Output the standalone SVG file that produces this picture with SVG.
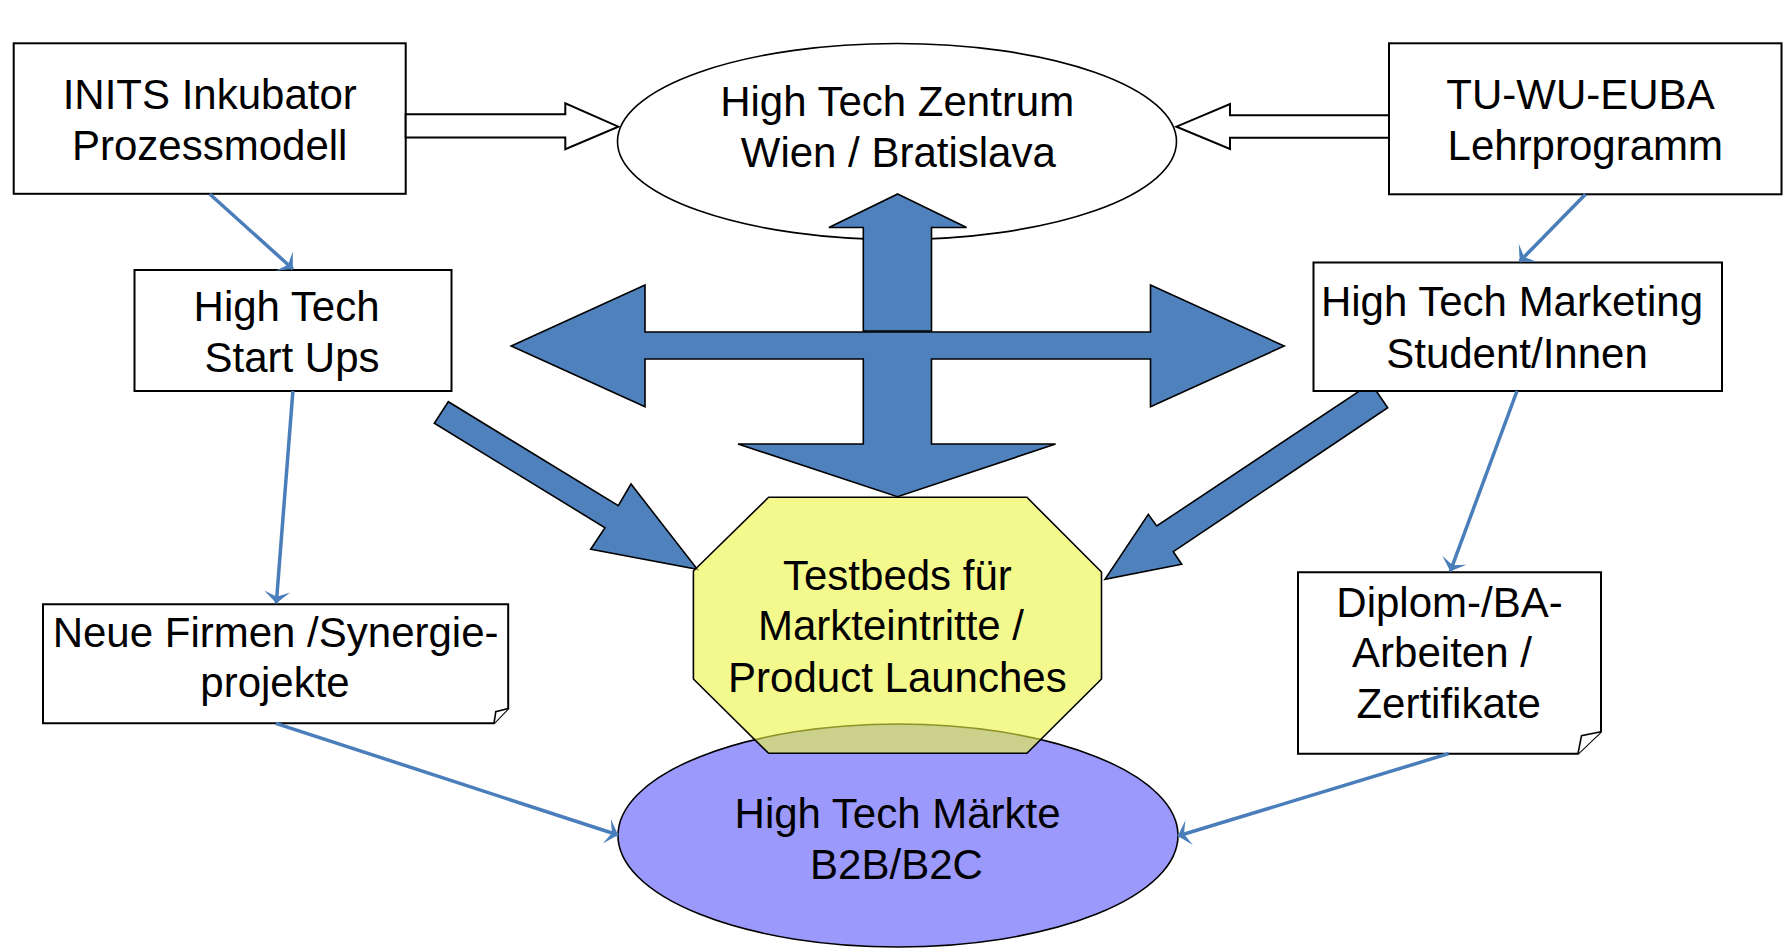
<svg xmlns="http://www.w3.org/2000/svg" width="1787" height="952" viewBox="0 0 1787 952">
<style>
text{font-family:"Liberation Sans",Arial,sans-serif;font-size:42px;fill:#000;text-anchor:middle}
.box{fill:#fff;stroke:#000;stroke-width:2}
.ell{stroke:#000;stroke-width:1.6}
.blk{fill:#4F81BD;stroke:#000;stroke-width:1.6;stroke-linejoin:miter}
.hollow{fill:#fff;stroke:#000;stroke-width:2}
.con{fill:none;stroke:#4A7EBB;stroke-width:3.5}
</style>
<defs>
<marker id="ah" markerUnits="userSpaceOnUse" markerWidth="14" markerHeight="28" viewBox="0 -13 12 26" refX="11" refY="0" orient="auto">
<path d="M11,0 L0,-12 L5,0 L0,12 Z" fill="#4A7EBB"/>
</marker>
</defs>
<rect width="1787" height="952" fill="#fff"/>

<g id="hub-arrows">
<polygon class="blk" points="511.2,346 645,285 645,332 1150.5,332 1150.5,285 1284.2,346 1150.5,406.7 1150.5,359 931.5,359 931.5,444 1055.6,444 897.5,496.7 738,444 863.3,444 863.3,359 645,359 645,406.7"/>
<polygon class="blk" points="448.3,401.7 434.3,423.3 605,527.7 590.7,549.3 697.3,569.3 631,484 618.3,505.7"/>
<polygon class="blk" points="1371,383.3 1387.7,407.7 1173.3,551.7 1181.7,564.3 1105,579.3 1148.3,514.3 1156.7,526"/>
</g>

<g id="node-zentrum">
<ellipse class="ell" cx="897" cy="141.5" rx="279.5" ry="98" fill="#fff"/>
<text x="897.2" y="116">High Tech Zentrum</text>
<text x="898.3" y="167.3">Wien / Bratislava</text>
</g>
<g id="hub-up">
<polygon class="blk" points="897.7,194 966.6,227.5 931.5,227.5 931.5,331 863.3,331 863.3,227.5 828.9,227.5"/>
</g>

<g id="node-maerkte">
<ellipse class="ell" cx="898" cy="835.5" rx="280" ry="111.5" fill="#9B99FB"/>
</g>

<g id="node-testbeds">
<polygon points="768.6,497.3 1026.9,497.3 1101.5,572 1101.5,679 1026.9,753.3 768.6,753.3 693.4,679 693.4,571" fill="#EBF541" fill-opacity="0.6" stroke="#000" stroke-width="1.6"/>
<text x="897.4" y="590">Testbeds für</text>
<text x="891" y="640">Markteintritte /</text>
<text x="897.4" y="691.7">Product Launches</text>
</g>
<g id="node-maerkte-text">
<text x="897.6" y="827.7">High Tech Märkte</text>
<text x="896.5" y="879">B2B/B2C</text>
</g>

<g id="node-inits">
<rect class="box" x="13.7" y="43.3" width="392" height="150.5"/>
<text x="209.7" y="109">INITS Inkubator</text>
<text x="209.7" y="160">Prozessmodell</text>
</g>

<g id="node-tu">
<rect class="box" x="1389" y="43.3" width="392.5" height="151"/>
<text x="1580.5" y="109">TU-WU-EUBA</text>
<text x="1585.3" y="160">Lehrprogramm</text>
</g>

<g id="node-startups">
<rect class="box" x="134.5" y="270" width="317" height="121"/>
<text x="286.6" y="321.4">High Tech</text>
<text x="292" y="371.5">Start Ups</text>
</g>

<g id="node-marketing">
<rect class="box" x="1313.5" y="262.5" width="408.5" height="128.5"/>
<text x="1512" y="316">High Tech Marketing</text>
<text x="1517" y="368.3">Student/Innen</text>
</g>

<g id="node-firmen">
<path class="box" d="M43,604.3 H508.2 V708.5 L494,723.3 H43 Z"/>
<path d="M494,723.3 L495.8,711.7 L508.2,708.5" fill="#fff" stroke="#000" stroke-width="1.6"/>
<text x="275.6" y="646.7">Neue Firmen /Synergie-</text>
<text x="275" y="696.7">projekte</text>
</g>

<g id="node-diplom">
<path class="box" d="M1298,572.3 H1601 V731.7 L1578,753.7 H1298 Z"/>
<path d="M1578,753.7 L1581.5,735.7 L1601,731.7" fill="#fff" stroke="#000" stroke-width="1.6"/>
<text x="1449.5" y="616.7">Diplom-/BA-</text>
<text x="1442" y="667.3">Arbeiten /</text>
<text x="1448.6" y="717.7">Zertifikate</text>
</g>

<g id="connectors">
<polygon class="hollow" points="405.7,114.3 565.3,114.3 565.3,103.4 618.4,126.7 565.3,149.2 565.3,137.4 405.7,137.4"/>
<polygon class="hollow" points="1389,115.3 1230,115.3 1230,104 1176.4,126.7 1230,149 1230,137.7 1389,137.7"/>
<line class="con" x1="209.7" y1="194" x2="292.9" y2="269" marker-end="url(#ah)"/>
<line class="con" x1="292.9" y1="391" x2="276.3" y2="603.3" marker-end="url(#ah)"/>
<line class="con" x1="275.8" y1="723.3" x2="618.1" y2="835" marker-end="url(#ah)"/>
<line class="con" x1="1585.5" y1="194.3" x2="1519.7" y2="261.5" marker-end="url(#ah)"/>
<line class="con" x1="1517" y1="391" x2="1450.3" y2="571.3" marker-end="url(#ah)"/>
<line class="con" x1="1448.6" y1="753.7" x2="1177.8" y2="836" marker-end="url(#ah)"/>
</g>
</svg>
